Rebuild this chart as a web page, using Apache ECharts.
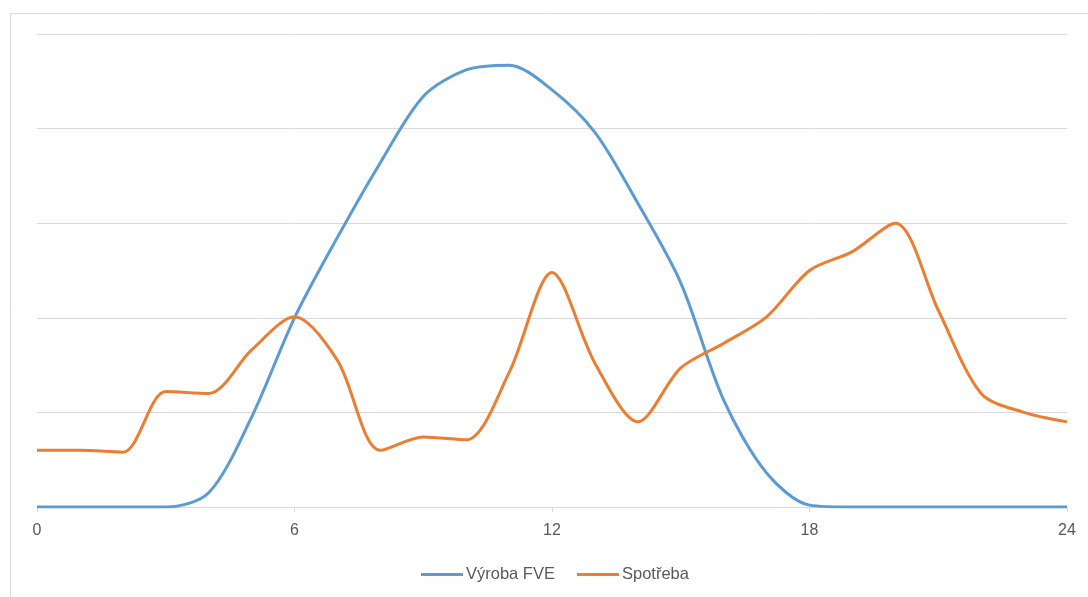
<!DOCTYPE html>
<html>
<head>
<meta charset="utf-8">
<script src="https://cdn.jsdelivr.net/npm/echarts@6/dist/echarts.min.js"></script>
<style>
html,body{margin:0;padding:0;background:#fff;}
#chart{width:1088px;height:597px;}
</style>
</head>
<body>
<div id="chart"></div>
<script>
var hours = [0,1,2,3,4,5,6,7,8,9,10,11,12,13,14,15,16,17,18,19,20,21,22,23,24];
var xTicks = ['0','6','12','18','24'];
var seriesNames = ['Výroba FVE', 'Spotřeba'];
var vyrobaFVE = [0,0,0,0,0.15,0.95,2.0,2.85,3.64,4.34,4.62,4.67,4.41,3.96,3.21,2.37,1.13,0.36,0.02,0,0,0,0,0,0];
var spotreba = [0.60,0.60,0.58,1.22,1.20,1.66,2.01,1.55,0.60,0.74,0.71,1.42,2.48,1.52,0.90,1.47,1.73,2.01,2.50,2.70,3.0,2.08,1.20,1.0,0.90];

function pairs(vals){ return hours.map(function(h,i){ return [h, vals[i]]; }); }

var chart = echarts.init(document.getElementById('chart'), null, {renderer:'canvas'});
var font = 'Liberation Sans, Arial, sans-serif';
chart.setOption({
  animation:false,
  backgroundColor:'#fff',
  graphic:[{type:'rect', left:8, top:11, shape:{width:1100, height:600}, style:{fill:'none', stroke:'#d9d9d9', lineWidth:1}, silent:true, z:-1}],
  grid:{left:37, right:21, top:34, bottom:90, containLabel:false},
  legend:{
    data:seriesNames, bottom:9, left:416, icon:'rect', itemWidth:42, itemHeight:3, itemGap:22,
    textStyle:{color:'#595959', fontSize:16.5, fontFamily:font, padding:[0,0,0,-2]}
  },
  xAxis:{
    type:'value', min:0, max:24, interval:6,
    axisLine:{show:true, lineStyle:{color:'#d9d9d9', width:1}},
    axisTick:{show:true, length:5, lineStyle:{color:'#d9d9d9'}},
    splitLine:{show:false},
    axisLabel:{color:'#595959', fontSize:16, fontFamily:font, margin:16,
      formatter:function(v){ var s=String(v); return xTicks.indexOf(s)>=0 ? s : ''; }}
  },
  yAxis:{
    type:'value', min:0, max:5, interval:1,
    axisLine:{show:false}, axisTick:{show:false}, axisLabel:{show:false},
    splitLine:{show:true, lineStyle:{color:'#d9d9d9', width:1}}
  },
  series:[
    {name:seriesNames[0], type:'line', data:pairs(vyrobaFVE), smooth:0.3, symbol:'none',
     lineStyle:{color:'#5B9BD5', width:3}, itemStyle:{color:'#5B9BD5'}},
    {name:seriesNames[1], type:'line', data:pairs(spotreba), smooth:0.3, symbol:'none',
     lineStyle:{color:'#ED7D31', width:3}, itemStyle:{color:'#ED7D31'}}
  ]
});
</script>
</body>
</html>
